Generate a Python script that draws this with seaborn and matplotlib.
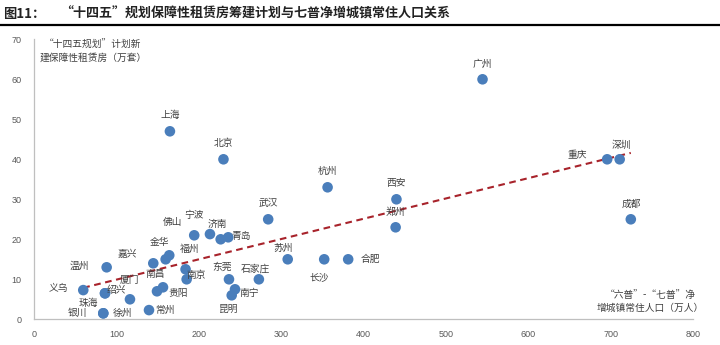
import matplotlib
matplotlib.use("Agg")
import matplotlib.pyplot as plt
import seaborn as sns
import pandas as pd

# 城市、"六普"至"七普"净增城镇常住人口（万人）、"十四五"计划新建保障性租赁房（万套）
cities = ["广州", "上海", "北京", "杭州", "西安", "郑州", "武汉", "重庆", "深圳", "成都",
          "宁波", "", "济南", "青岛", "苏州", "长沙", "合肥", "东莞", "石家庄", "南宁",
          "昆明", "福州", "南京", "佛山", "金华", "嘉兴", "南昌", "贵阳", "常州", "温州",
          "义乌", "绍兴", "珠海", "厦门", "银川", "徐州"]
pop_increase = [544.5, 165, 230, 356.4, 440, 439, 284.3, 695.8, 711, 724.5,
                194.5, 213.6, 226.6, 235.8, 308, 352.3, 381.4, 236.7, 273, 244,
                240, 184, 185.3, 164.2, 159.8, 144.8, 149.3, 156.6, 139.6, 88.2,
                59.8, 86.2, 86.2, 116.5, 84.1, 84.1]
housing_plan = [60, 47, 40, 33, 30, 23, 25, 40, 40, 25,
                21, 21.3, 20, 20.5, 15, 15, 15, 10, 10, 7.5,
                6, 12.5, 10, 16, 15, 14, 7, 8, 2.3, 13,
                7.3, 6.5, 6.5, 5, 1.5, 1.5]

x_ticks = [0, 100, 200, 300, 400, 500, 600, 700, 800]
y_ticks = [0, 10, 20, 30, 40, 50, 60, 70]

# 数据标签相对散点的位置（像素）
label_offsets = {
    "广州": (0, 15), "上海": (0, 16), "北京": (0, 16), "杭州": (0, 16), "西安": (0, 16),
    "郑州": (0, 15), "武汉": (0, 16), "重庆": (-30, 4), "深圳": (2, 14), "成都": (1, 15),
    "宁波": (0, 20), "济南": (-3, 15), "青岛": (13, 1), "苏州": (-5, 11), "长沙": (-5, -18),
    "合肥": (22, 0), "东莞": (-7, 12), "石家庄": (-3, 11), "南宁": (14, -4), "昆明": (-3, -14),
    "福州": (4, 20), "南京": (10, 4), "佛山": (3, 33), "金华": (-6, 17), "嘉兴": (-26, 9),
    "南昌": (-2, 17), "贵阳": (15, -6), "常州": (16, 0), "温州": (-27, 1), "义乌": (-25, 2),
    "绍兴": (11, 3), "珠海": (-17, -10), "厦门": (-1, 19), "银川": (-26, 0), "徐州": (19, 0),
}

df = pd.DataFrame({"city": cities, "pop": pop_increase, "plan": housing_plan})

sns.set_style("white")
plt.rcParams["font.family"] = ["Noto Sans CJK SC", "DejaVu Sans"]

fig = plt.figure(figsize=(7.2, 3.45), dpi=100)
ax = fig.add_axes([34 / 720, 25.7 / 345, 659 / 720, 280 / 345])

blue = "#4A7EBB"
sns.scatterplot(data=df, x="pop", y="plan", ax=ax, color=blue, s=58,
                edgecolor="none", zorder=3, legend=False)
sns.regplot(data=df, x="pop", y="plan", ax=ax, scatter=False, ci=None,
            line_kws=dict(color="#A8232B", lw=1.5, linestyle=(0, (3.2, 2.2)), zorder=2))

for name, xv, yv in zip(cities, pop_increase, housing_plan):
    if not name:
        continue
    dx, dy = label_offsets[name]
    ax.annotate(name, (xv, yv), xytext=(dx, dy), textcoords="offset pixels",
                ha="center", va="center", fontsize=7, color="#404040", zorder=4)

ax.set_xlim(0, 800)
ax.set_ylim(0, 70)
ax.set_xticks(x_ticks)
ax.set_yticks(y_ticks)
ax.set_xlabel("")
ax.set_ylabel("")
ax.tick_params(axis="both", length=0, labelsize=6.5, labelcolor="#595959")
ax.tick_params(axis="x", pad=8)
ax.tick_params(axis="y", pad=9)
for lab in ax.get_xticklabels() + ax.get_yticklabels():
    lab.set_fontfamily("Liberation Sans")

for side in ("top", "right"):
    ax.spines[side].set_visible(False)
for side in ("left", "bottom"):
    ax.spines[side].set_color("#BFBFBF")
    ax.spines[side].set_linewidth(0.9)

# 坐标轴说明
fig.text(93 / 720, 1 - 51 / 345, "“十四五规划”计划新\n建保障性租赁房（万套）",
         ha="center", va="center", fontsize=7, color="#404040", linespacing=1.35)
fig.text(650 / 720, 1 - 301 / 345, "“六普”-“七普”净\n增城镇常住人口（万人）",
         ha="center", va="center", fontsize=7, color="#404040", linespacing=1.35)

# 标题与下划线
fig.text(3 / 720, 1 - 14 / 345, "图11：", ha="left", va="center",
         fontsize=9.5, fontweight="bold", color="#222222")
fig.text(60 / 720, 1 - 14 / 345,
         "“十四五”规划保障性租赁房筹建计划与七普净增城镇常住人口关系",
         ha="left", va="center", fontsize=9.4, fontweight="bold", color="#222222")
fig.add_artist(plt.Line2D([0, 1], [1 - 25 / 345, 1 - 25 / 345], color="black", lw=1.6,
                          transform=fig.transFigure))

fig.savefig("out.png", dpi=100)
